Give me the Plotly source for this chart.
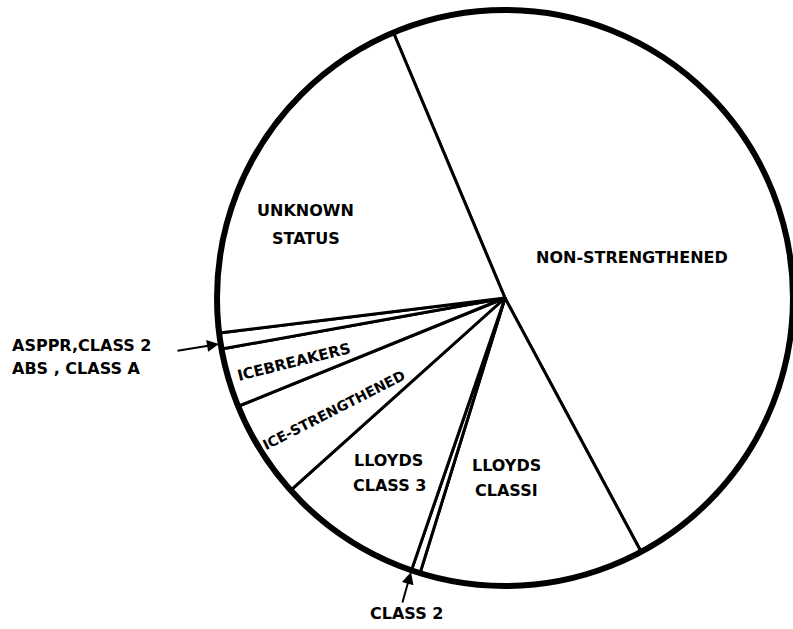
import plotly.graph_objects as go

# ship categories, share of the fleet in percent (read clockwise from the top line)
categories = [
    "NON-STRENGTHENED",
    "LLOYDS CLASS 1",
    "CLASS 2",
    "LLOYDS CLASS 3",
    "ICE-STRENGTHENED",
    "ICEBREAKERS",
    "ASPPR, CLASS 2 / ABS, CLASS A",
    "UNKNOWN STATUS",
]
shares = [48.5, 12.6, 0.5, 8.1, 5.5, 3.3, 0.9, 20.6]

W, H = 793, 629


def px_x(x):
    return x / W


def px_y(y):
    return 1 - y / H


# pie placed so its centre sits at (505, 298) px with a 288 px radius
dom_x = [px_x(505 - 288), px_x(505 + 288)]
dom_y = [px_y(298 + 288), px_y(298 - 288)]

fig = go.Figure()
fig.add_trace(go.Pie(
    labels=categories, values=shares, sort=False, direction="clockwise",
    rotation=-22.8, textinfo="none", hoverinfo="label+percent",
    marker=dict(colors=["white"] * len(shares), line=dict(color="black", width=3)),
    domain=dict(x=dom_x, y=dom_y), showlegend=False,
))
# heavier outer rim
fig.add_trace(go.Pie(
    labels=["all"], values=[1], textinfo="none", hoverinfo="skip",
    marker=dict(colors=["rgba(0,0,0,0)"], line=dict(color="black", width=6)),
    domain=dict(x=dom_x, y=dom_y), showlegend=False,
))

# (text, x px, y px, angle, x anchor, font size) - one entry per printed line
labels = [
    ("UNKNOWN", 305, 211, 0, "center", 16),
    ("STATUS", 306, 238, 0, "center", 16),
    ("NON-STRENGTHENED", 632, 257, 0, "center", 16),
    ("ICEBREAKERS", 294, 362, -14, "center", 15),
    ("ICE-STRENGTHENED", 334, 410, -27, "center", 14),
    ("LLOYDS", 388, 460, 0, "center", 16),
    ("CLASS 3", 389, 485, 0, "center", 16),
    ("LLOYDS", 506, 465, 0, "center", 16),
    ("CLASSI", 506, 490, 0, "center", 16),
    ("CLASS 2", 406, 613, 0, "center", 16),
    ("ASPPR,CLASS 2", 10, 345, 0, "left", 16),
    ("ABS , CLASS A", 10, 368, 0, "left", 16),
]
for text, x, y, ang, xa, size in labels:
    fig.add_annotation(x=px_x(x), y=px_y(y), xref="paper", yref="paper",
                       text=f"<b>{text}</b>", showarrow=False, textangle=ang,
                       font=dict(family="DejaVu Sans", size=size, color="black"),
                       xanchor=xa, yanchor="middle")

# pointer arrows
for hx, hy, tx, ty in [(219, 344, 176, 351), (411, 572, 402, 604)]:
    fig.add_annotation(x=px_x(hx), y=px_y(hy), xref="paper", yref="paper", text="",
                       showarrow=True, arrowhead=2, arrowsize=1.2, arrowwidth=2,
                       arrowcolor="black", ax=tx - hx, ay=ty - hy)

fig.update_layout(
    width=W, height=H, margin=dict(l=0, r=0, t=0, b=0),
    paper_bgcolor="white", plot_bgcolor="white",
)

fig.write_html("out.html", config={"displayModeBar": False},
               post_script="document.body.style.margin='0';")
